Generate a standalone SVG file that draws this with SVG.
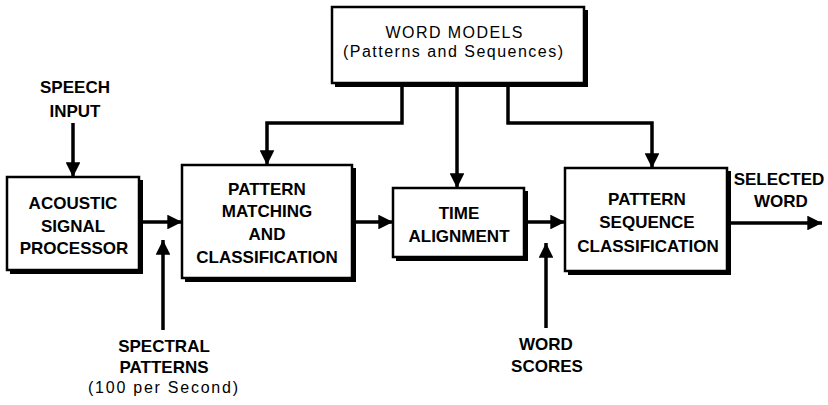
<svg xmlns="http://www.w3.org/2000/svg" width="828" height="405" viewBox="0 0 828 405">
  <defs>
    <style>
      .box { fill: #fff; stroke: #000; stroke-width: 2.5; }
      .shadow { fill: #000; }
      .lbl { font-family: "Liberation Sans", Arial, sans-serif; font-weight: bold; font-size: 17px; fill: #000; text-anchor: middle; }
      .sub { font-family: "Liberation Sans", Arial, sans-serif; font-size: 16px; fill: #000; text-anchor: middle; }
      .wire { fill: none; stroke: #000; stroke-width: 3.5; stroke-linejoin: miter; }
    </style>
    <marker id="head" viewBox="0 0 10 10" refX="10" refY="5" markerWidth="4.4" markerHeight="4.2" markerUnits="strokeWidth" orient="auto">
      <path d="M0,0 L10,5 L0,10 Z" fill="#000"/>
    </marker>
  </defs>

  <!-- free-standing labels -->
  <text class="lbl" x="75" y="93">SPEECH</text>
  <text class="lbl" x="75" y="117">INPUT</text>
  <text class="lbl" x="164" y="352" font-size="16.5">SPECTRAL</text>
  <text class="lbl" x="164" y="373" font-size="16.5">PATTERNS</text>
  <text class="sub" x="163" y="393" textLength="150" lengthAdjust="spacing">(100 per Second)</text>
  <text class="lbl" x="546" y="350" font-size="16.5">WORD</text>
  <text class="lbl" x="547" y="372" font-size="16.5">SCORES</text>
  <text class="lbl" x="779" y="185">SELECTED</text>
  <text class="lbl" x="781" y="207">WORD</text>

  <!-- connectors -->
  <g id="connectors">
    <path class="wire" d="M73,123 V177" marker-end="url(#head)"/>
    <path class="wire" d="M142,222 H182" marker-end="url(#head)"/>
    <path class="wire" d="M163,330 V240" marker-end="url(#head)"/>
    <path class="wire" d="M355,222 H393" marker-end="url(#head)"/>
    <path class="wire" d="M527,222 H565" marker-end="url(#head)"/>
    <path class="wire" d="M546,328 V243" marker-end="url(#head)"/>
    <path class="wire" d="M730,223 H822" marker-end="url(#head)"/>
    <path class="wire" d="M402,86 V123 H267 V165" marker-end="url(#head)"/>
    <path class="wire" d="M457,86 V188" marker-end="url(#head)"/>
    <path class="wire" d="M508,86 V123 H652 V168" marker-end="url(#head)"/>
  </g>

  <!-- word models -->
  <g id="word-models">
    <rect class="shadow" x="335" y="10" width="253" height="77"/>
    <rect class="box" x="332" y="7" width="252" height="76"/>
    <text class="sub" x="454" y="38" font-size="15.5" textLength="137" lengthAdjust="spacing">WORD MODELS</text>
    <text class="sub" x="453" y="57" font-size="15.5" textLength="220" lengthAdjust="spacing">(Patterns and Sequences)</text>
  </g>

  <!-- acoustic signal processor -->
  <g id="acoustic">
    <rect class="shadow" x="10" y="180" width="133" height="94"/>
    <rect class="box" x="7" y="177" width="132" height="93"/>
    <text class="lbl" x="73" y="209">ACOUSTIC</text>
    <text class="lbl" x="73" y="232">SIGNAL</text>
    <text class="lbl" x="74" y="254">PROCESSOR</text>
  </g>

  <!-- pattern matching and classification -->
  <g id="pattern-matching">
    <rect class="shadow" x="185" y="168" width="171" height="114"/>
    <rect class="box" x="182" y="165" width="170" height="113"/>
    <text class="lbl" x="267" y="195">PATTERN</text>
    <text class="lbl" x="267" y="217">MATCHING</text>
    <text class="lbl" x="267" y="240">AND</text>
    <text class="lbl" x="267" y="263">CLASSIFICATION</text>
  </g>

  <!-- time alignment -->
  <g id="time-alignment">
    <rect class="shadow" x="396" y="191" width="132" height="70"/>
    <rect class="box" x="393" y="188" width="131" height="69"/>
    <text class="lbl" x="459" y="219">TIME</text>
    <text class="lbl" x="459" y="242">ALIGNMENT</text>
  </g>

  <!-- pattern sequence classification -->
  <g id="pattern-sequence">
    <rect class="shadow" x="568" y="171" width="163" height="104"/>
    <rect class="box" x="565" y="168" width="162" height="103"/>
    <text class="lbl" x="647" y="205">PATTERN</text>
    <text class="lbl" x="647" y="228">SEQUENCE</text>
    <text class="lbl" x="648" y="252">CLASSIFICATION</text>
  </g>
</svg>
